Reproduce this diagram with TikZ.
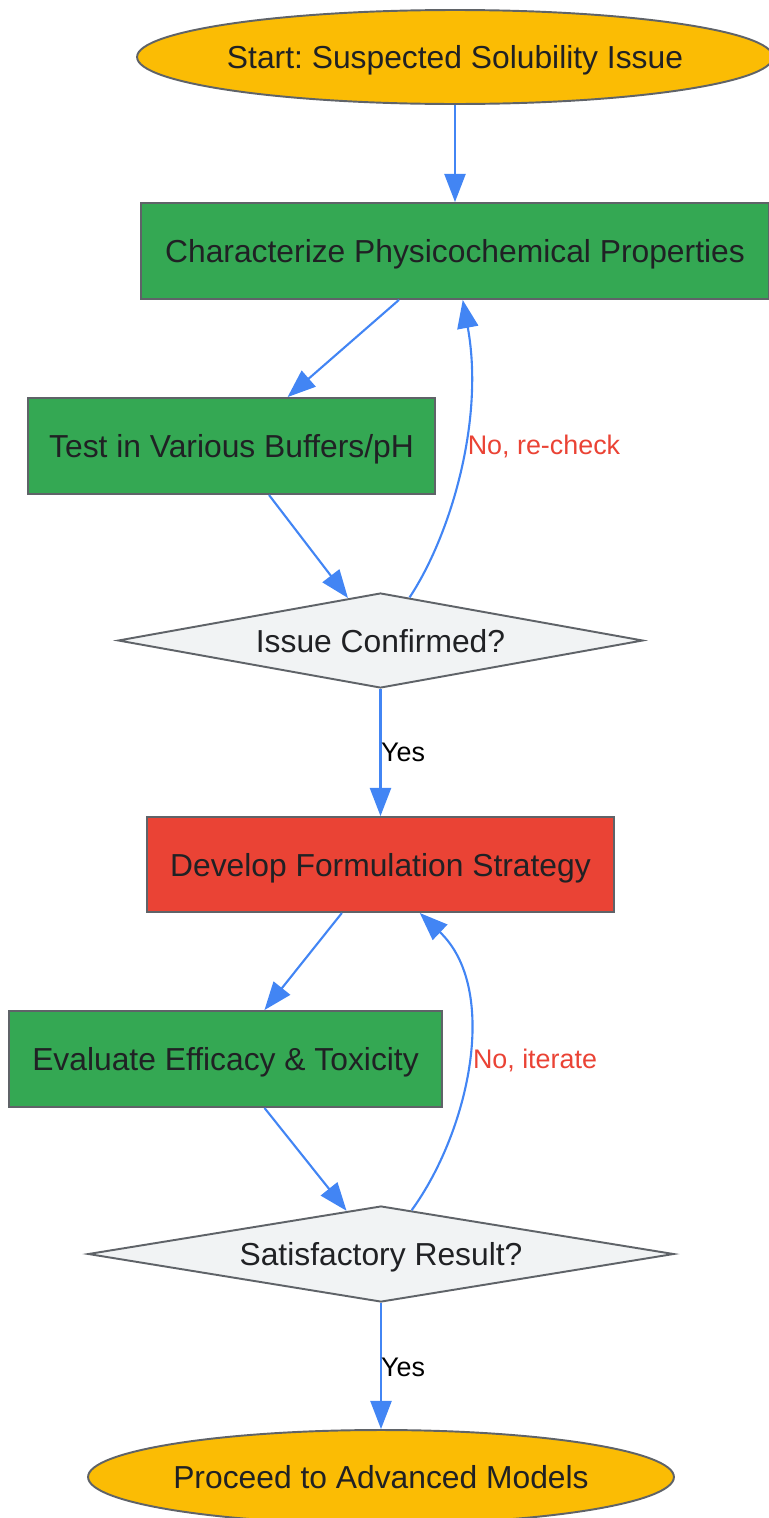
\documentclass[tikz,border=0pt]{standalone}
\usepackage{fontspec}
\setmainfont{Liberation Sans}
\usepackage{xcolor}
\usetikzlibrary{shapes.geometric,arrows.meta}
\definecolor{gyellow}{HTML}{FBBC04}
\definecolor{ggreen}{HTML}{34A853}
\definecolor{gred}{HTML}{EA4335}
\definecolor{ggrey}{HTML}{F1F3F4}
\definecolor{gedge}{HTML}{5F6368}
\definecolor{gblue}{HTML}{4285F4}
\definecolor{gtext}{HTML}{202124}
\frenchspacing

\begin{document}
\begin{tikzpicture}[x=0.02cm,y=-0.02cm,
    box/.style={draw=gedge,line width=1.1pt,text=gtext,font=\fontsize{18.1}{21}\selectfont,inner sep=0pt,text depth=0pt},
    terminal/.style={box,ellipse,fill=gyellow,inner xsep=-6pt},
    process/.style={box,rectangle,fill=ggreen,minimum height=1.92cm},
    decision/.style={box,diamond,fill=ggrey,aspect=5.5},
    flow/.style={draw=gblue,line width=1.2pt,-{Triangle[length=16pt,width=12pt]}},
    note/.style={font=\fontsize{15.3}{18}\selectfont}]
    \useasboundingbox (0,0) rectangle (768,1518);

    % nodes
    \node[terminal,minimum width=12.72cm,minimum height=1.88cm] (start) at (455,57) {Start: Suspected Solubility Issue};
    \node[process,minimum width=12.56cm] (char) at (455,251) {Characterize Physicochemical Properties};
    \node[process,minimum width=8.14cm] (test) at (231.5,446) {Test in Various Buffers/pH};
    \node[decision,minimum width=10.5cm,minimum height=1.9cm] (issue) at (380.5,640.5) {Issue Confirmed?};
    \node[process,fill=gred,minimum width=9.34cm,minimum height=1.9cm] (dev) at (380.5,864.5) {Develop Formulation Strategy};
    \node[process,minimum width=8.66cm] (eval) at (225.5,1059) {Evaluate Efficacy \& Toxicity};
    \node[decision,minimum width=11.72cm,minimum height=1.92cm] (sat) at (381,1254) {Satisfactory Result?};
    \node[terminal,minimum width=11.72cm,minimum height=1.88cm] (proceed) at (381,1477) {Proceed to Advanced Models};

    % connectors
    \draw[flow] (start) -- (char);
    \draw[flow] (char) -- (test);
    \draw[flow] (test) -- (issue);
    \draw[flow] (issue.56) .. controls +(41,-62) and +(22,120) .. (char.-81);
    \node[note,text=gred] (recheck) at (544,446) {No, re-check};
    \draw[flow] (issue) -- (dev);
    \node[note] (yes1) at (403,752) {Yes};

    \draw[flow] (dev) -- (eval);
    \draw[flow] (eval) -- (sat);
    \draw[flow] (sat.55) .. controls +(58,-80) and +(80,76) .. (dev.-51);
    \node[note,text=gred] (iterate) at (535,1060) {No, iterate};
    \draw[flow] (sat) -- (proceed);
    \node[note] (yes2) at (403,1367) {Yes};
\end{tikzpicture}
\end{document}
